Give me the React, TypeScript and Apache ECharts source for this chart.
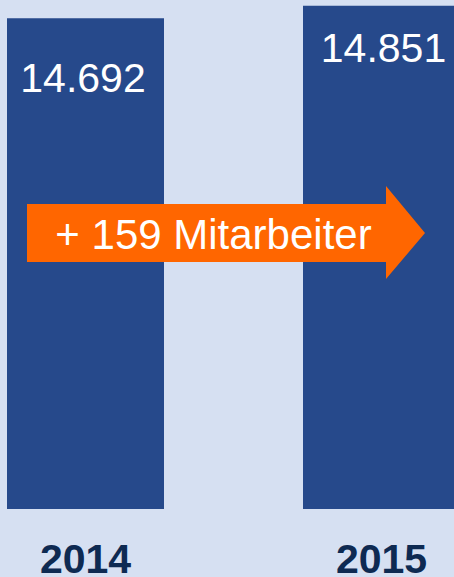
import React, { useEffect, useRef } from "react";
import * as echarts from "echarts";

const categories = ["2014", "2015"];
const employees = [14692, 14851];
const valueLabels = ["14.692", "14.851"];
const arrowText = "+ 159 Mitarbeiter";

export default function App() {
  const ref = useRef<HTMLDivElement>(null);
  useEffect(() => {
    document.body.style.margin = "0";
    if (!ref.current) return;
    const chart = echarts.init(ref.current, null, { renderer: "svg" });
    const labelOffsets = [
      [-2.5, 39],
      [2, 22],
    ];
    chart.setOption({
      animation: false,
      backgroundColor: "#d6e0f2",
      grid: {
        left: -62.5,
        width: 592,
        top: 0,
        bottom: 68,
        containLabel: false,
        outerBoundsMode: "none",
      },
      xAxis: {
        type: "category",
        data: categories,
        axisLine: { show: false },
        axisTick: { show: false },
        axisLabel: {
          fontFamily: "Liberation Sans",
          fontWeight: "bold",
          fontSize: 41,
          color: "#0e2a52",
          margin: 29,
        },
      },
      yAxis: {
        type: "value",
        min: 8400,
        max: 14925,
        show: false,
        splitLine: { show: false },
      },
      series: [
        {
          type: "bar",
          barWidth: 157,
          itemStyle: { color: "#26498b" },
          data: employees.map((v, i) => ({
            value: v,
            label: {
              show: true,
              position: "insideTop",
              distance: 0,
              offset: labelOffsets[i],
              formatter: valueLabels[i],
              color: "#ffffff",
              fontFamily: "Liberation Sans",
              fontSize: 41,
            },
          })),
        },
      ],
      graphic: [
        {
          type: "polygon",
          shape: {
            points: [
              [27, 204],
              [386, 204],
              [386, 186],
              [425, 233],
              [386, 279],
              [386, 262],
              [27, 262],
            ],
          },
          style: { fill: "#ff6600" },
          z: 100,
        },
        {
          type: "text",
          x: 213.5,
          y: 234,
          style: {
            text: arrowText,
            fill: "#ffffff",
            fontFamily: "Liberation Sans",
            fontSize: 42,
            textAlign: "center",
            textVerticalAlign: "middle",
          },
          z: 101,
        },
      ],
    });
    return () => chart.dispose();
  }, []);
  return <div ref={ref} style={{ width: 454, height: 577 }} />;
}
